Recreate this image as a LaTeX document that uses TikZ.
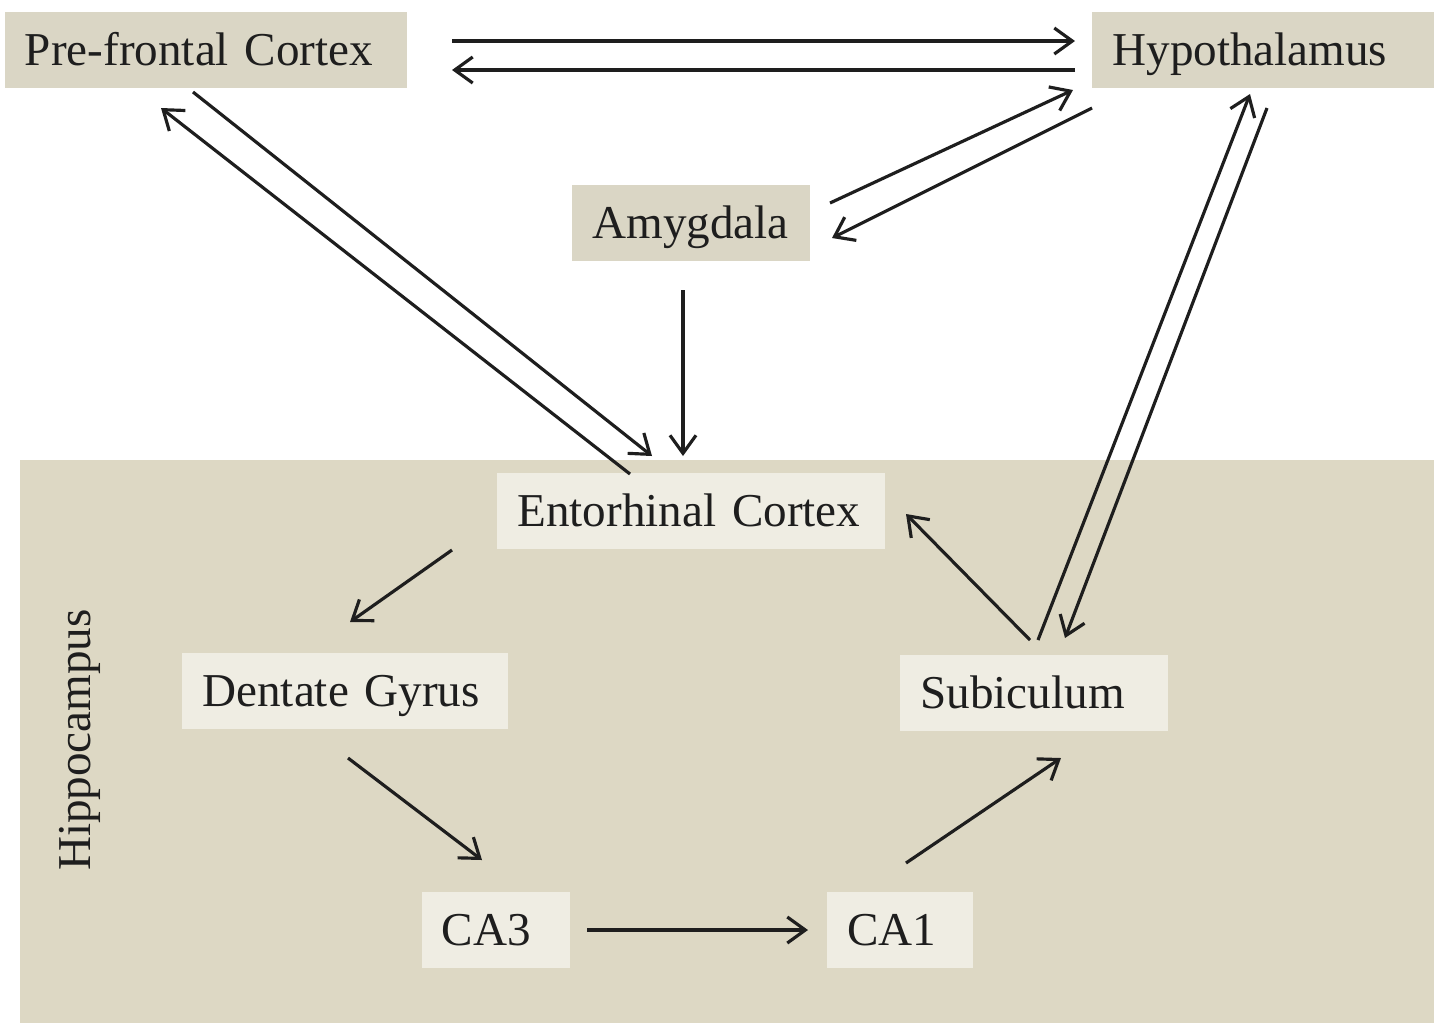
\documentclass[tikz,border=0pt]{standalone}
\usepackage{fontspec}
\setmainfont{Liberation Serif}
\usetikzlibrary{arrows.meta,calc}

\definecolor{hippofill}{HTML}{DDD8C4}
\definecolor{outerfill}{HTML}{DAD6C5}
\definecolor{innerfill}{HTML}{EFEDE3}
\definecolor{inkcol}{HTML}{1E1E1E}

\tikzset{
  region/.style={fill=outerfill,inner xsep=0.2cm,minimum height=0.75cm,
    text height=12pt,text depth=3pt,
    align=left,text=inkcol,font=\fontsize{13.4}{16}\selectfont},
  subregion/.style={region,fill=innerfill},
  link/.style={-{Straight Barb[length=1.8mm,width=2.6mm]},line width=0.9pt,draw=inkcol}
}

\begin{document}
\begin{tikzpicture}[x=0.01cm,y=-0.01cm]
	\useasboundingbox (0,0) rectangle (1442,1023);
	% hippocampus
	\fill[hippofill] (20,460) rectangle (1434,1023);
	\node[rotate=90,text=inkcol,font=\fontsize{13.4}{16}\selectfont] (hippo) at (80,740) {Hippocampus};

	\node[region,text width=3.62cm] (pfc) at (206,50) {Pre-frontal Cortex};
	\node[region,text width=3.01cm] (hyp) at (1263,50) {Hypothalamus};
	\node[region,text width=1.97cm] (amy) at (691,223) {Amygdala};
	\node[subregion,text width=3.47cm] (ec) at (691,511) {Entorhinal Cortex};
	\node[subregion,text width=2.85cm] (dg) at (345,691) {Dentate Gyrus};
	\node[subregion,text width=2.27cm] (sub) at (1034,693) {Subiculum};
	\node[subregion,text width=1.08cm] (ca3) at (496,930) {CA3};
	\node[subregion,text width=1.05cm] (ca1) at (900,930) {CA1};

	% cortex and hypothalamus
	\draw[link] ($(pfc)+(246,-9)$) -- ($(hyp)+(-188,-9)$);
	\draw[link] ($(hyp)+(-188,20)$) -- ($(pfc)+(246,20)$);
	\draw[link] ($(amy)+(139,-20)$) -- ($(hyp)+(-190,40)$);
	\draw[link] ($(hyp)+(-171,58)$) -- ($(amy)+(141,15)$);
	\draw[link] ($(pfc)+(-13,42)$) -- ($(ec)+(-39,-55)$);
	\draw[link] ($(ec)+(-61,-37)$) -- ($(pfc)+(-45,58)$);
	\draw[link] ($(amy)+(-8,67)$) -- ($(ec)+(-8,-55)$);

	% hippocampal loop
	\draw[link] ($(ec)+(-239,39)$) -- ($(dg)+(5,-69)$);
	\draw[link] ($(dg)+(3,67)$) -- ($(ca3)+(-14,-70)$);
	\draw[link] ($(ca3)+(91,0)$) -- ($(ca1)+(-92,0)$);
	\draw[link] ($(ca1)+(6,-67)$) -- ($(sub)+(27,65)$);
	\draw[link] ($(sub)+(-4,-53)$) -- ($(ec)+(215,3)$);
	\draw[link] ($(sub)+(4,-53)$) -- ($(hyp)+(-13,44)$);
	\draw[link] ($(hyp)+(4,58)$) -- ($(sub)+(31,-55)$);
\end{tikzpicture}
\end{document}
